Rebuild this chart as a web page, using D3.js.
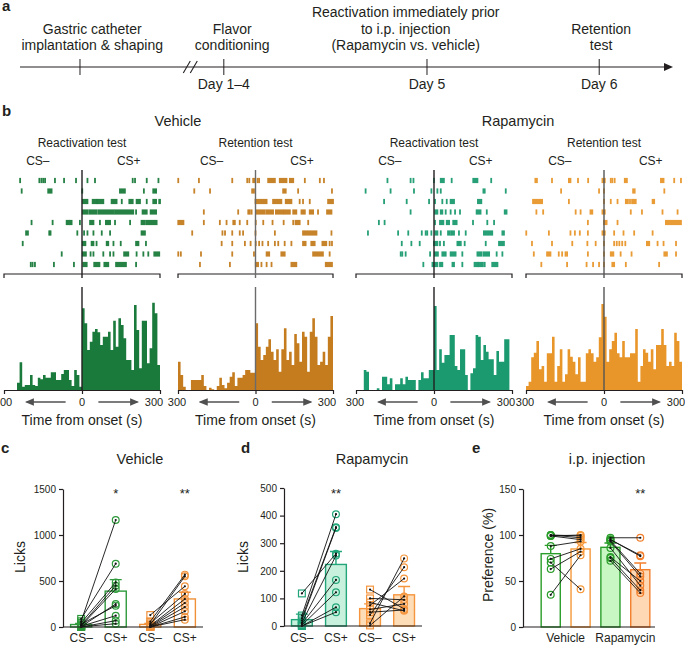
<!DOCTYPE html>
<html>
<head>
<meta charset="utf-8">
<script src="https://cdn.jsdelivr.net/npm/d3@7/dist/d3.min.js"></script>
<style>
  body { margin: 0; background: #fff; }
  svg text { font-family: Arial, "Liberation Sans", Helvetica, sans-serif; fill: #231f20; }
</style>
</head>
<body>
<svg id="fig" width="685" height="645"></svg>
<script>
// ---------- panel a : schedule ----------
const stageNames = [
  ["Gastric catheter", "implantation & shaping"],
  ["Flavor", "conditioning"],
  ["Reactivation immediately prior", "to i.p. injection", "(Rapamycin vs. vehicle)"],
  ["Retention", "test"]
];
const stageDays = ["", "Day 1–4", "Day 5", "Day 6"];
const stageAt = [9.3, 31.6, 63.1, 89.8];      // schematic position along the time line (%)
const stageTextAt = [11.2, 32.9, 59.8, 90.1];
const breakAt = 26.4;

// ---------- panel b : rasters (s from onset; [start, end] = lick bout) ----------
const rasterVehReact = [
  [-238, -164, -156, -149, -142, -104, -69, -23, 21, 50, 195, 204, 249, 294],
  [-232, [-130, -117], 1, [146, 165], 238, [274, 285]],
  [[3, 21], [41, 56], [60, 82], [114, 133], 153, [182, 195], [210, 223], 249, [274, 285], [297, 300]],
  [[3, 21], [28, 56], [63, 121], [127, 197], 208, [233, 249], [264, 285]],
  [-194, -113, [-59, -51], [-46, -40], -8, [31, 44], 69, [92, 108], 127, 185, [229, 242], [249, 287]],
  [-215, -208, -126, -121, -18, 8, 21, 44, 76, 108, [229, 242]],
  [-228, [3, 13], [37, 44], 56, [95, 101], 121, 149, [208, 217], 246],
  [-78, [3, 15], 33, 44, 82, 108, 121, [162, 178], 210, 236, 255, [278, 297]],
  [-197, -190, -181, -108, -31, [5, 18], [47, 67], [86, 101], [131, 169], 208]
];
const rasterVehRet = [
  [-299, -219, -90, -32, -24, -9, -3, 8, 14, [49, 75], [94, 120], [133, 146], 191, 249, 265],
  [-237, -176, [-13, -6], [107, 117], 165, 296],
  [[0, 43], [68, 100], [117, 139], 171, 184, 210, [281, 300]],
  [-200, -67, -28, -22, -15, [4, 36], [43, 68], [79, 107], [113, 133], [146, 158], [178, 191], [210, 223], 242, [277, 294]],
  [[-299, -279], -200, -138, -112, -86, -80, -61, -32, 1, 30, 66, 109, 146, [155, 171], 204],
  [-245, -128, -118, -90, -61, -48, 0, 75, [184, 236], 294],
  [-131, -90, -41, -19, 1, 14, 27, 49, 75, 88, 113, 139, [184, 194], [216, 229], [259, 274], 287, 296],
  [-299, -289, -211, -90, -6, [43, 53], [100, 113], [223, 261], 287],
  [-215, -99, [1, 10], 23, 43, 62, [139, 158], [272, 296]]
];
const rasterRapReact = [
  [-179, -90, -79, 0, [26, 38], 68, [151, 167], 220],
  [-263, -167, -77, -10, 13, 26, [190, 195], 276],
  [-192, -105, -19, 4, 32, 49, [64, 77], [169, 182]],
  [-90, [4, 13], [26, 32], 45, 64, 81, 100, [164, 179], 203, [272, 279]],
  [-212, -190, 4, [23, 36], [49, 58], [74, 87], 150, 205, 231],
  [-254, -138, -99, -47, -32, -26, -10, [5, 13], 26, [54, 60], 66, [72, 77], 96, 122, [192, 224], [263, 269]],
  [-124, -87, -55, [0, 13], 23, 38, [90, 103], 118, 199, [250, 269]],
  [-128, -122, -109, -15, [3, 15], [32, 45], [64, 83], 109, [167, 182], [190, 212], 241, 263],
  [-41, [-6, 13], [23, 32], [71, 77], 109, [156, 168], [172, 182], 188, 195, [224, 244]]
];
const rasterRapRet = [
  [[-264, -258], -200, [-135, -129], -100, -61, [-6, 3], 26, 32, 41, [80, 88], [219, 229], 270, 296],
  [-165, -19, 0, [112, 118], 232],
  [[-273, -238], -135, 0, 26, 52, [84, 92], 100, 108, [114, 122], [187, 193]],
  [-260, -234, -109, -90, [-52, -45], [-6, 3], 103, 146, 225, 283],
  [-62, [0, 10], 52, [238, 296]],
  [-299, -212, -129, -112, -93, -62, [-6, 3], 39, 75, 116, 187],
  [-277, -200, -122, -64, -32, 0, 39, 49, 59, 70, 82, [165, 174], 206, 229, 277],
  [-270, [-219, -206], -174, -161, -148, -142, -62, 0, [26, 36], 64, 106, [232, 242], 277],
  [-241, -142, -67, -42, -19, 0, [32, 39], 84, 212]
];

// ---------- panel b : peri-onset histograms, 10 s bins from -300 to 300 ----------
const binStarts = d3.range(-300, 300, 10);
const histVehReact = [0, 0, 0, 0, 0, 22, 83, 10, 15, 15, 45, 15, 12, 37, 32, 45, 37, 37, 53, 53, 30, 30, 48, 60, 60, 30, 12, 60, 45, 10,
  245, 200, 120, 145, 175, 183, 173, 135, 160, 160, 175, 120, 208, 130, 215, 195, 155, 90, 90, 60, 255, 180, 65, 208, 208, 80, 125, 262, 230, 75];
const histVehRet = [85, 45, 10, 0, 0, 30, 30, 30, 30, 45, 12, 0, 7, 2, 0, 12, 37, 15, 5, 22, 40, 53, 12, 37, 37, 45, 60, 60, 52, 52,
  200, 130, 90, 105, 130, 152, 115, 90, 122, 55, 122, 185, 90, 115, 75, 168, 140, 85, 175, 160, 55, 175, 215, 160, 75, 85, 115, 75, 160, 222];
const histRapReact = [0, 0, 0, 60, 55, 0, 0, 0, 5, 0, 40, 40, 17, 35, 0, 17, 17, 35, 17, 40, 30, 30, 30, 0, 30, 53, 35, 35, 60, 60,
  252, 60, 122, 82, 105, 105, 165, 165, 72, 60, 122, 122, 45, 0, 50, 65, 165, 160, 90, 135, 115, 92, 92, 45, 117, 85, 85, 152, 152, 0];
const histRapRet = [12, 25, 98, 112, 147, 62, 72, 25, 110, 110, 160, 25, 72, 122, 25, 47, 122, 100, 85, 47, 98, 25, 25, 110, 122, 110, 85, 98, 158, 258,
  220, 85, 122, 147, 172, 110, 98, 147, 98, 98, 110, 110, 183, 25, 72, 122, 112, 85, 122, 62, 135, 135, 183, 135, 72, 85, 72, 172, 147, 85];

// ---------- panels c-e ----------
const csCats = ["CS–", "CS+", "CS–", "CS+"];
const cMeans = [27, 390, 28, 305];
const cSems = [12, 125, 10, 72];
const cReactMinus = [88, 62, 45, 30, 20, 12, 8, 5, 2, 0];
const cReactPlus = [688, 1163, 485, 232, 449, 413, 123, 250, 36, 69];
const cRetMinus = [130, 60, 40, 25, 15, 10, 5, 0, 0, 0];
const cRetPlus = [442, 569, 359, 551, 304, 261, 217, 170, 109, 80];
const cStars = ["", "*", "", "**"];

const dMeans = [23, 223, 63, 113];
const dSems = [20, 47, 17, 30];
const dReactMinus = [118, 38, 28, 20, 12, 8, 3, 0, 0];
const dReactPlus = [262, 405, 358, 355, 255, 167, 122, 68, 50];
const dRetMinus = [132, 100, 85, 75, 60, 50, 40, 10, 2];
const dRetPlus = [62, 95, 55, 172, 80, 58, 213, 245, 107];
const dStars = ["", "**", "", ""];

const eGroups = ["Vehicle", "Rapamycin"];
const eMeans = [79.7, 84.8, 86.6, 62.3];
const eSems = [9, 7, 4.7, 7.3];
const eVehReact = [100, 100, 99, 99, 88, 74, 70, 63, 35];
const eVehRet = [99, 97, 95, 100, 93, 85, 41, 82, 78];
const eRapReact = [97, 95, 95, 94, 93, 86, 76, 75, 72];
const eRapRet = [97, 78, 77, 58, 55, 45, 50, 40, 37];
const eStars = ["", "", "", "**"];

const ink = '#231f20';
const svg = d3.select('#fig');

function label(g, x, y, txt, size, opts = {}) {
  return g.append('text').attr('x', x).attr('y', y)
    .attr('font-size', size)
    .attr('text-anchor', opts.anchor || 'middle')
    .attr('font-weight', opts.bold ? 'bold' : null)
    .text(txt);
}

// ===== a =====
(function () {
  const g = svg.append('g');
  const tl = d3.scaleLinear().domain([0, 100]).range([20, 665]);
  const yLine = 67;
  label(g, 2, 11, 'a', 15, { anchor: 'start', bold: true });
  g.append('line').attr('x1', tl(0)).attr('x2', tl(100)).attr('y1', yLine).attr('y2', yLine)
    .attr('stroke', ink).attr('stroke-width', 1.2);
  g.append('path').attr('d', `M${tl(100) + 8},${yLine} L${tl(100) - 1},${yLine - 4} L${tl(100) - 1},${yLine + 4} Z`).attr('fill', ink);
  g.selectAll('line.tick').data(stageAt).join('line')
    .attr('x1', d => tl(d)).attr('x2', d => tl(d)).attr('y1', yLine - 8).attr('y2', yLine + 8)
    .attr('stroke', ink).attr('stroke-width', 1);
  // axis break
  [-3.5, 3.5].forEach(o => {
    g.append('line').attr('x1', tl(breakAt) + o - 3.5).attr('x2', tl(breakAt) + o + 3.5)
      .attr('y1', yLine + 6).attr('y2', yLine - 6).attr('stroke', ink).attr('stroke-width', 1.1);
  });
  stageNames.forEach((lines, i) => {
    const n = lines.length;
    lines.forEach((t, j) => label(g, tl(stageTextAt[i]), 50 - (n - 1 - j) * 16.5, t, 14));
    if (stageDays[i]) label(g, tl(stageAt[i]), 89, stageDays[i], 14);
  });
})();

// ===== b =====
const rasterPanels = [
  { raster: rasterVehReact, hist: histVehReact, color: '#1a7a3b', zero: ink, range: [4, 160], title: 'Reactivation test' },
  { raster: rasterVehRet, hist: histVehRet, color: '#c47c1f', zero: '#6b6b6b', range: [178, 333], title: 'Retention test' },
  { raster: rasterRapReact, hist: histRapReact, color: '#1b9a70', zero: ink, range: [356, 512], title: 'Reactivation test' },
  { raster: rasterRapRet, hist: histRapRet, color: '#e8962a', zero: '#555', range: [526, 682], title: 'Retention test' }
];
(function () {
  const g = svg.append('g');
  label(g, 2, 116, 'b', 15, { anchor: 'start', bold: true });
  label(g, 178, 126, 'Vehicle', 14.5);
  label(g, 518, 126, 'Rapamycin', 14.5);

  const defs = svg.append('defs');
  defs.append('marker').attr('id', 'ah').attr('viewBox', '0 0 10 10').attr('refX', 8).attr('refY', 5)
    .attr('markerWidth', 7).attr('markerHeight', 7).attr('orient', 'auto-start-reverse')
    .append('path').attr('d', 'M0,1 L10,5 L0,9 Z').attr('fill', '#505050');

  const rowY = d3.scalePoint().domain(d3.range(9)).range([180.5, 264.5]);
  const hy = d3.scaleLinear().domain([0, 270]).range([390, 300]);

  rasterPanels.forEach(p => {
    const x = d3.scaleLinear().domain([-300, 300]).range(p.range);
    const pg = g.append('g');
    label(pg, x(0), 147, p.title, 12);
    label(pg, x(-170), 165, 'CS–', 12);
    label(pg, x(180), 165, 'CS+', 12);

    const events = p.raster.flatMap((row, i) => row.map(e => ({
      row: i, t0: Array.isArray(e) ? e[0] : e, t1: Array.isArray(e) ? e[1] : e
    })));
    pg.selectAll('rect.ev').data(events).join('rect')
      .attr('x', d => x(d.t0) - 0.9)
      .attr('width', d => Math.max(1.8, x(d.t1) - x(d.t0) + 1.8))
      .attr('y', d => rowY(d.row) - 2.6).attr('height', 5.2)
      .attr('fill', p.color).attr('opacity', 0.95);

    // bracket between raster and histogram
    const yb = 274;
    pg.append('path').attr('d', `M${x(-300)},${yb + 4} V${yb} H${x(300)} V${yb + 4}`)
      .attr('fill', 'none').attr('stroke', ink).attr('stroke-width', 1.2);
    pg.append('line').attr('x1', x(0)).attr('x2', x(0)).attr('y1', 170).attr('y2', yb + 4)
      .attr('stroke', p.zero).attr('stroke-width', 1.4);

    // histogram
    const pts = binStarts.map((b, i) => [b, p.hist[i]]).concat([[300, p.hist[p.hist.length - 1]]]);
    const area = d3.area().x(d => x(d[0])).y0(hy(0)).y1(d => hy(d[1])).curve(d3.curveStepAfter);
    pg.append('path').datum(pts).attr('d', area).attr('fill', p.color);
    pg.append('line').attr('x1', x(0)).attr('x2', x(0)).attr('y1', 287).attr('y2', hy(0))
      .attr('stroke', p.zero).attr('stroke-width', 1.4);
    const ax = d3.axisBottom(x).tickValues([-300, 0, 300]).tickSize(4).tickSizeOuter(0).tickFormat('');
    pg.append('g').attr('transform', `translate(0,${hy(0)})`).call(ax)
      .call(s => s.selectAll('path,line').attr('stroke', ink).attr('stroke-width', 1.2));

    label(pg, x(-300) - 1, 406, '300', 11);
    label(pg, x(0), 406, '0', 11);
    label(pg, x(300) - 6, 406, '300', 11);
    pg.append('line').attr('x1', x(-63)).attr('x2', x(-213)).attr('y1', 402).attr('y2', 402)
      .attr('stroke', '#505050').attr('stroke-width', 1.3).attr('marker-end', 'url(#ah)');
    pg.append('line').attr('x1', x(63)).attr('x2', x(213)).attr('y1', 402).attr('y2', 402)
      .attr('stroke', '#505050').attr('stroke-width', 1.3).attr('marker-end', 'url(#ah)');
    label(pg, x(0), 425, 'Time from onset (s)', 14);
  });
})();

// ===== c-e =====
function pairedPanel(cfg) {
  const g = svg.append('g');
  label(g, cfg.letterX, 453, cfg.letter, 15, { anchor: 'start', bold: true });
  label(g, cfg.titleX, 464, cfg.title, 14.5);

  const x = d3.scaleBand().domain(d3.range(4)).range(cfg.band).paddingInner(cfg.pi).paddingOuter(cfg.po);
  const y = d3.scaleLinear().domain([0, cfg.yMax]).range([cfg.yBase, cfg.yTop]);
  const cx = i => x(i) + x.bandwidth() / 2;

  g.selectAll('rect.bar').data(cfg.means).join('rect')
    .attr('x', (d, i) => x(i)).attr('width', x.bandwidth())
    .attr('y', d => y(d)).attr('height', d => y(0) - y(d))
    .attr('fill', (d, i) => cfg.fills[i]).attr('stroke', (d, i) => cfg.strokes[i]).attr('stroke-width', 1.4);
  cfg.means.forEach((m, i) => {
    const top = y(m + cfg.sems[i]);
    g.append('path').attr('d', `M${cx(i)},${y(m)} V${top} M${cx(i) - 6},${top} H${cx(i) + 6}`)
      .attr('fill', 'none').attr('stroke', cfg.strokes[i]).attr('stroke-width', 1.4);
  });

  cfg.pairs.forEach(pr => {
    const pts = [[pr.a, pr.va, pr.ma], [pr.b, pr.vb, pr.mb]];
    pts.forEach(([idx, vals, mk]) => {
      const col = cfg.strokes[idx];
      if (mk === 'square') {
        g.selectAll(null).data(vals).join('rect')
          .attr('x', cx(idx) - 3.4).attr('y', d => y(d) - 3.4).attr('width', 6.8).attr('height', 6.8)
          .attr('fill', 'none').attr('stroke', col).attr('stroke-width', 1.2);
      } else {
        g.selectAll(null).data(vals).join('circle')
          .attr('cx', cx(idx)).attr('cy', d => y(d)).attr('r', 3.4)
          .attr('fill', 'none').attr('stroke', col).attr('stroke-width', 1.2);
      }
    });
    g.selectAll(null).data(pr.va).join('line')
      .attr('x1', cx(pr.a)).attr('x2', cx(pr.b))
      .attr('y1', d => y(d)).attr('y2', (d, k) => y(pr.vb[k]))
      .attr('stroke', '#111').attr('stroke-width', 0.9);
    [[pr.a, pr.va], [pr.b, pr.vb]].forEach(([idx, vals]) => {
      g.selectAll(null).data(vals).join('circle')
        .attr('cx', cx(idx)).attr('cy', d => y(d)).attr('r', 1.1).attr('fill', '#111');
    });
  });

  const yAxis = d3.axisLeft(y).tickValues(cfg.ticks).tickFormat(d3.format('d'))
    .tickSize(4).tickPadding(3).tickSizeOuter(0);
  g.append('g').attr('transform', `translate(${cfg.axis[0]},0)`).call(yAxis)
    .call(s => s.selectAll('path,line').attr('stroke', ink).attr('stroke-width', 1.2))
    .call(s => s.selectAll('text').attr('font-size', 10));
  g.append('line').attr('x1', cfg.axis[0]).attr('x2', cfg.axis[1]).attr('y1', y(0)).attr('y2', y(0))
    .attr('stroke', ink).attr('stroke-width', 1.2);

  cfg.xLabels.forEach(l => label(g, l.at(cx), 642, l.text, 12));
  cfg.stars.forEach((s, i) => { if (s) label(g, cx(i), 497.5, s, 13); });

  g.append('text').attr('transform', `translate(${cfg.yTitleX},${cfg.yTitleY}) rotate(-90)`)
    .attr('text-anchor', 'middle').attr('font-size', 14).text(cfg.yTitle);
}

pairedPanel({
  letter: 'c', letterX: 1, title: 'Vehicle', titleX: 140,
  band: [63, 203], pi: 0.39, po: 0.22, axis: [63, 203],
  yMax: 1500, yBase: 627, yTop: 489, ticks: [0, 500, 1000, 1500],
  means: cMeans, sems: cSems,
  fills: ['#fff', '#fff', '#fff', '#fff'],
  strokes: ['#2f9a3c', '#2f9a3c', '#f0913a', '#f0913a'],
  pairs: [
    { a: 0, b: 1, va: cReactMinus, vb: cReactPlus, ma: 'square', mb: 'circle' },
    { a: 2, b: 3, va: cRetMinus, vb: cRetPlus, ma: 'square', mb: 'circle' }
  ],
  xLabels: csCats.map((t, i) => ({ text: t, at: cx => cx(i) })),
  stars: cStars, yTitle: 'Licks', yTitleX: 25, yTitleY: 557
});

pairedPanel({
  letter: 'd', letterX: 241, title: 'Rapamycin', titleX: 372,
  band: [284, 422], pi: 0.39, po: 0.22, axis: [284, 422],
  yMax: 500, yBase: 626, yTop: 488, ticks: [0, 100, 200, 300, 400, 500],
  means: dMeans, sems: dSems,
  fills: ['#c8f1dd', '#c8f1dd', '#fddcb8', '#fddcb8'],
  strokes: ['#22a57a', '#22a57a', '#f5963f', '#f5963f'],
  pairs: [
    { a: 0, b: 1, va: dReactMinus, vb: dReactPlus, ma: 'square', mb: 'circle' },
    { a: 2, b: 3, va: dRetMinus, vb: dRetPlus, ma: 'square', mb: 'circle' }
  ],
  xLabels: csCats.map((t, i) => ({ text: t, at: cx => cx(i) })),
  stars: dStars, yTitle: 'Licks', yTitleX: 248, yTitleY: 557
});

pairedPanel({
  letter: 'e', letterX: 472, title: 'i.p. injection', titleX: 607,
  band: [534, 657], pi: 0.36, po: 0.24, axis: [523, 655],
  yMax: 150, yBase: 627, yTop: 489, ticks: [0, 50, 100, 150],
  means: eMeans, sems: eSems,
  fills: ['#fff', '#fff', '#c8f7c4', '#fed8b4'],
  strokes: ['#2a9d2a', '#f7993a', '#2a9d2a', '#f27f2c'],
  pairs: [
    { a: 0, b: 1, va: eVehReact, vb: eVehRet, ma: 'circle', mb: 'circle' },
    { a: 2, b: 3, va: eRapReact, vb: eRapRet, ma: 'circle', mb: 'circle' }
  ],
  xLabels: eGroups.map((t, i) => ({ text: t, at: cx => (cx(2 * i) + cx(2 * i + 1)) / 2 })),
  stars: eStars, yTitle: 'Preference (%)', yTitleX: 493, yTitleY: 555
});
</script>
</body>
</html>
